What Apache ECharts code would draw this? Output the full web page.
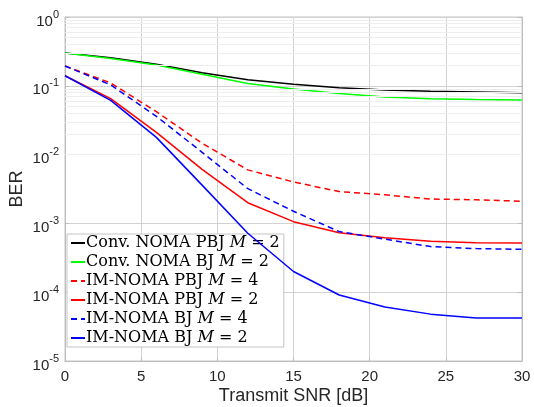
<!DOCTYPE html>
<html>
<head>
<meta charset="utf-8">
<script src="https://cdn.jsdelivr.net/npm/echarts@6/dist/echarts.min.js"></script>
<style>html,body{margin:0;padding:0;background:#fff}#c{width:534px;height:407px}</style>
</head>
<body>
<div id="c"></div>
<script>
// ---- data ----
const snr = [0, 3, 6, 9, 12, 15, 18, 21, 24, 27, 30];
const convPBJ2 = [0.30, 0.255, 0.205, 0.155, 0.122, 0.105, 0.094, 0.087, 0.083, 0.081, 0.079];
const convBJ2  = [0.30, 0.25, 0.20, 0.147, 0.108, 0.090, 0.077, 0.069, 0.065, 0.063, 0.062];
const imPBJ4   = [0.194, 0.11, 0.042, 0.0146, 0.0060, 0.0040, 0.0029, 0.0026, 0.00226, 0.0022, 0.0021];
const imPBJ2   = [0.140, 0.065, 0.021, 0.0061, 0.0020, 0.00106, 0.00073, 0.00062, 0.00055, 0.000525, 0.00052];
const imBJ4    = [0.194, 0.103, 0.036, 0.0108, 0.0032, 0.0015, 0.00076, 0.00059, 0.00046, 0.00043, 0.00042];
const imBJ2    = [0.140, 0.0615, 0.0178, 0.0036, 0.00072, 0.0002, 0.000091, 0.000061, 0.000048, 0.000042, 0.000042];
const seriesNames = ['Conv. NOMA PBJ', 'Conv. NOMA BJ', 'IM-NOMA PBJ', 'IM-NOMA PBJ', 'IM-NOMA BJ', 'IM-NOMA BJ'];
const seriesM = [2, 2, 4, 2, 4, 2];
const yDecades = [-5, -4, -3, -2, -1, 0];
const minorMult = [2, 3, 4, 5, 6, 7, 8, 9];

const seriesData = [convPBJ2, convBJ2, imPBJ4, imPBJ2, imBJ4, imBJ2];
const colors = ['#000000', '#00ff00', '#ff0000', '#ff0000', '#0000ff', '#0000ff'];
const dashed = [false, false, true, false, true, false];

const fullNames = seriesNames.map((n, i) => n + ' M = ' + seriesM[i]);

const minorVals = [];
yDecades.slice(0, -1).forEach(d => minorMult.forEach(k => minorVals.push(k * Math.pow(10, d))));

const chart = echarts.init(document.getElementById('c'), null, {renderer: 'canvas'});

const series = [{
  name: '__minor', type: 'line', data: [], z: 1, silent: true,
  markLine: {
    silent: true, symbol: 'none', label: {show: false},
    lineStyle: {color: '#eeeeee', width: 1, type: 'solid'},
    data: minorVals.map(v => ({yAxis: v}))
  }
}];
seriesData.forEach((d, i) => {
  series.push({
    name: fullNames[i], type: 'line', z: 3 + i,
    data: snr.map((x, j) => [x, d[j]]),
    showSymbol: false, symbol: 'circle', symbolSize: 1, smooth: false,
    lineStyle: {color: colors[i], width: 1.5, type: dashed[i] ? [6, 4] : 'solid'},
    itemStyle: {color: colors[i]}
  });
});

chart.setOption({
  animation: false,
  backgroundColor: '#ffffff',
  grid: {left: 65, right: 12, top: 17, bottom: 46, containLabel: false, outerBoundsMode: 'none',
         show: true, borderColor: '#c4c4c4', borderWidth: 1},
  xAxis: {
    type: 'value', min: 0, max: 30, interval: 5,
    axisLine: {show: true, lineStyle: {color: '#bdbdbd'}},
    axisTick: {show: true, inside: true, length: 4, lineStyle: {color: '#bdbdbd'}},
    splitLine: {show: true, lineStyle: {color: '#d2d2d2', width: 1}},
    axisLabel: {fontFamily: 'Liberation Sans, Arial, sans-serif', fontSize: 15, color: '#262626', margin: 8},
    name: 'Transmit SNR [dB]', nameLocation: 'middle', nameGap: 26, nameMoveOverlap: false,
    nameTextStyle: {fontFamily: 'Liberation Sans, Arial, sans-serif', fontSize: 18, color: '#262626'}
  },
  yAxis: [{
    type: 'log', logBase: 10, min: 1e-5, max: 1,
    axisLine: {show: true, lineStyle: {color: '#bdbdbd'}},
    axisTick: {show: true, inside: true, length: 4, lineStyle: {color: '#bdbdbd'}},
    splitLine: {show: true, lineStyle: {color: '#d2d2d2', width: 1}},
    minorTick: {show: false}, minorSplitLine: {show: false},
    axisLabel: {
      margin: 6,
      formatter: v => {
        const e = Math.round(Math.log10(v));
        return '{b|10}{s|' + e + '}';
      },
      rich: {
        b: {fontFamily: 'Liberation Sans, Arial, sans-serif', fontSize: 15, color: '#262626', padding: [9, 0, 0, 0]},
        s: {fontFamily: 'Liberation Sans, Arial, sans-serif', fontSize: 11, color: '#262626', padding: [0, 0, 5, 0]}
      }
    },
    name: 'BER', nameLocation: 'middle', nameGap: 39, nameMoveOverlap: false,
    nameTextStyle: {fontFamily: 'Liberation Sans, Arial, sans-serif', fontSize: 18, color: '#262626'}
  }, {
    type: 'log', logBase: 10, min: 1e-5, max: 1, position: 'right',
    axisLine: {show: true, lineStyle: {color: '#bdbdbd'}},
    axisTick: {show: true, inside: true, length: 4, lineStyle: {color: '#bdbdbd'}},
    splitLine: {show: false}, axisLabel: {show: false}
  }],
  legend: {
    data: fullNames,
    orient: 'vertical', left: 67, top: 234,
    padding: [1, 4, 1, 3], itemGap: 3, itemWidth: 14, itemHeight: 14,
    itemStyle: {opacity: 0},
    backgroundColor: '#ffffff', borderColor: '#c4c4c4', borderWidth: 1,
    formatter: name => {
      const i = fullNames.indexOf(name);
      return '{n|' + seriesNames[i] + ' }{m|M}{n| = ' + seriesM[i] + '}';
    },
    textStyle: {
      padding: [0, 0, 0, -4],
      rich: {
        n: {fontFamily: 'DejaVu Serif, Liberation Serif, serif', fontSize: 16, color: '#000', lineHeight: 17},
        m: {fontFamily: 'DejaVu Serif, Liberation Serif, serif', fontSize: 16, fontStyle: 'italic', color: '#000', lineHeight: 17}
      }
    }
  },
  series: series
});
</script>
</body>
</html>
